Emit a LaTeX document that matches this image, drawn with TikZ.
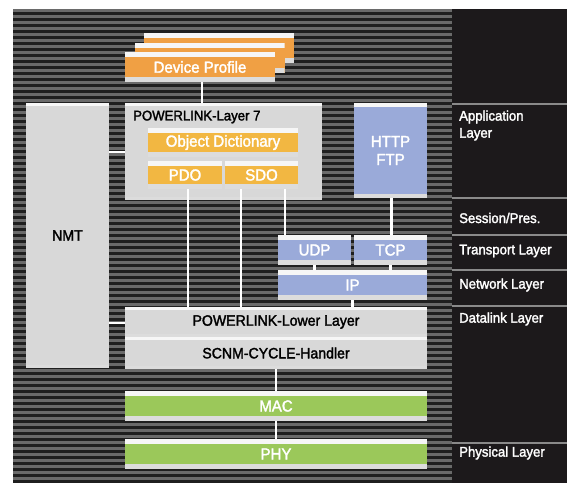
\documentclass[tikz,border=0pt]{standalone}
\usepackage{fontspec}
\setmainfont[FakeStretch=0.94, FakeBold=2]{Liberation Sans}
\definecolor{stripeg}{HTML}{6A6A6A}
\definecolor{striped}{HTML}{1F1F1F}
\definecolor{panel}{HTML}{1C191B}
\definecolor{boxgray}{HTML}{D8D8D8}
\definecolor{dporange}{HTML}{F0A044}
\definecolor{odyellow}{HTML}{F2B742}
\definecolor{ipblue}{HTML}{9AAAD9}
\definecolor{macgreen}{HTML}{9BC85A}
\definecolor{sepgray}{HTML}{8A8A8A}
\definecolor{topstrip}{HTML}{F6F6F6}
\definecolor{botstrip}{HTML}{DCDCDC}
\tikzset{
  sw/.code={\def\sw{#1}}, sw=5pt,
  blk/.style={rectangle, inner sep=0pt, outer sep=0pt, draw=none, fill=#1,
    path picture={
      \fill[topstrip] (path picture bounding box.north west) rectangle ([yshift=-\sw]path picture bounding box.north east);
      \fill[botstrip] ([yshift=\sw]path picture bounding box.south west) rectangle (path picture bounding box.south east);
    }},
  wtxt/.style={text=white, font=\fontsize{16}{18}\selectfont},
  btxt/.style={text=black, font=\fontsize{15}{18}\selectfont},
  lab/.style={anchor=west, inner sep=0pt, text=white, align=left, font=\fontsize{14}{17}\selectfont},
  conn/.style={draw=white, line width=2.5pt},
}
\newcommand\bx[7]{\node[#6, minimum width={(#4-#2)*1pt}, minimum height={(#5-#3)*1pt}] (#1) at ({(#2+#4)/2},{(#3+#5)/2}) {#7};}
\begin{document}
\begin{tikzpicture}[x=1pt,y=-1pt]
\useasboundingbox (0,0) rectangle (567,483);
\fill[white] (0,0) rectangle (567,483);
% striped background
\fill[striped] (13,9) rectangle (452,483);
\foreach \i in {0,...,78} \fill[stripeg] (13,{9+6*\i}) rectangle (452,{12+6*\i});
% right panel
\fill[panel] (452,9) rectangle (567,483);
\foreach \yy in {104,198,235,270,306,443} \draw[sepgray, line width=1.2pt] (452,\yy) -- (567,\yy);
\node[lab] (lapp) at (459,125.5) {Application\\Layer};
\node[lab] (lses) at (459,218) {Session/Pres.};
\node[lab] (ltra) at (459,251) {Transport Layer};
\node[lab] (lnet) at (459,285) {Network Layer};
\node[lab] (ldat) at (459,319) {Datalink Layer};
\node[lab] (lphy) at (459,453) {Physical Layer};
% device profile cards
\bx{card3}{144}{33}{294}{63}{blk=dporange}{}
\bx{card2}{134.5}{42.5}{284.5}{72.5}{blk=dporange}{}
\bx{dp}{125}{52}{275}{82}{blk=dporange, wtxt}{Device Profile}
% layer 7
\bx{l7}{125}{103}{322}{200}{blk=boxgray, sw=3pt}{}
\node[btxt, anchor=west, inner sep=0pt, font=\fontsize{14}{16}\selectfont] (l7t) at (133,117) {POWERLINK-Layer 7};
\bx{od}{148}{128}{298}{157}{blk=odyellow, wtxt}{Object Dictionary}
\bx{pdo}{148}{161}{222}{189}{blk=odyellow, wtxt}{PDO}
\bx{sdo}{225}{161}{298}{189}{blk=odyellow, wtxt}{SDO}
% NMT
\bx{nmt}{26}{103}{109}{368}{blk=boxgray, sw=3pt, btxt}{NMT}
% IP stack
\bx{http}{354}{103}{427}{198}{blk=ipblue, sw=4pt, wtxt, align=center, font=\fontsize{16}{18}\selectfont}{HTTP\\FTP}
\bx{udp}{278}{235}{351}{265}{blk=ipblue, wtxt}{UDP}
\bx{tcp}{354}{235}{427}{265}{blk=ipblue, wtxt}{TCP}
\bx{ip}{278}{270}{427}{300}{blk=ipblue, wtxt}{IP}
% lower layer
\bx{low1}{125}{307}{427}{337}{blk=boxgray, sw=3pt, btxt}{POWERLINK-Lower Layer}
\bx{low2}{125}{337}{427}{369}{blk=boxgray, sw=3pt, btxt}{SCNM-CYCLE-Handler}
\bx{mac}{125}{391}{427}{421}{blk=macgreen, wtxt}{MAC}
\bx{phy}{125}{439}{427}{469}{blk=macgreen, wtxt}{PHY}
% connectors
\draw[conn] ([xshift=2pt]dp.south) -- ([xshift=2pt]dp.south |- l7.north);
\draw[conn] (nmt.east |- 0,152) -- (l7.west |- 0,152);
\draw[conn] (nmt.east |- 0,323) -- (low1.west |- 0,323);
\draw[conn] ([xshift=3pt]pdo.south) -- ([xshift=3pt]pdo.south |- low1.north);
\draw[conn] ([xshift=16pt]sdo.south west) -- ([xshift=16pt]sdo.south west |- low1.north);
\draw[conn] ([xshift=60pt]sdo.south west) -- ([xshift=60pt]sdo.south west |- udp.north);
\draw[conn] ([xshift=1pt]http.south) -- ([xshift=1pt]http.south |- tcp.north);
\draw[conn] (udp.south) -- (udp.south |- ip.north);
\draw[conn] (tcp.south) -- (tcp.south |- ip.north);
\draw[conn] (ip.south) -- (ip.south |- low1.north);
\draw[conn] (low2.south -| mac.north) -- (mac.north);
\draw[conn] (mac.south) -- (phy.north);
\end{tikzpicture}
\end{document}
